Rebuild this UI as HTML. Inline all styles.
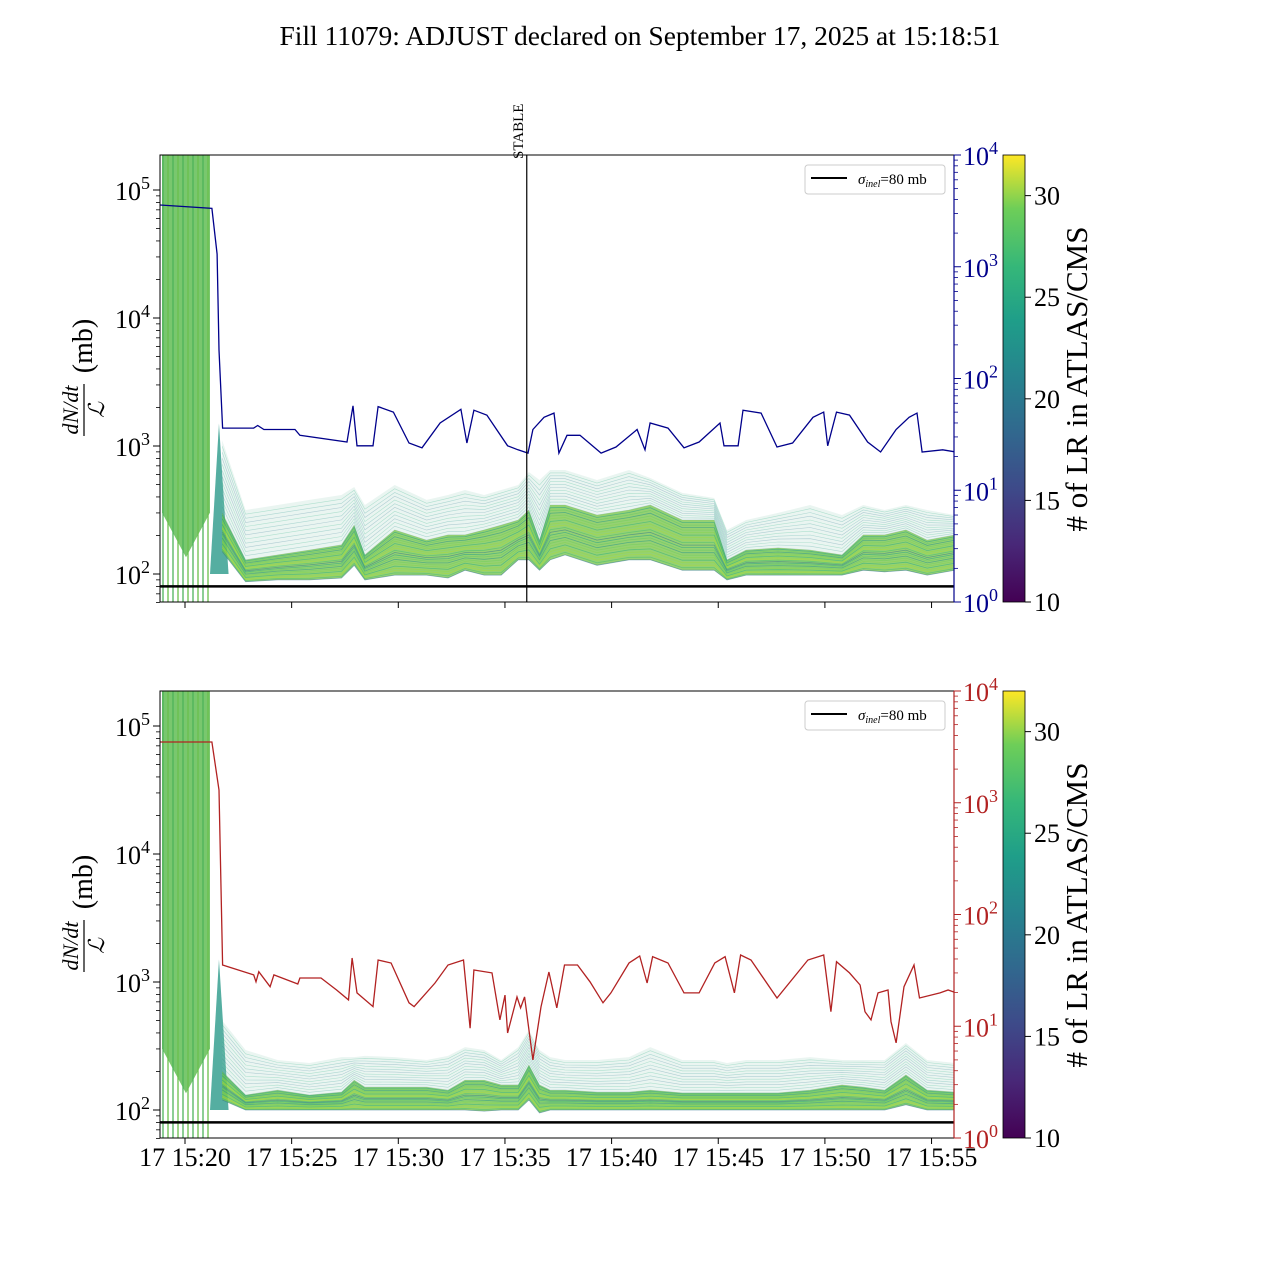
<!DOCTYPE html>
<html><head><meta charset="utf-8"><style>
html,body{margin:0;padding:0;background:#fff;}
svg text{font-family:"Liberation Serif",serif;}
</style></head><body>
<svg id="c" width="1280" height="1280" viewBox="0 0 1280 1280" xmlns="http://www.w3.org/2000/svg">
<defs>
<linearGradient id="vir" x1="0" y1="1" x2="0" y2="0">
<stop offset="0" stop-color="#440154"/><stop offset="0.13" stop-color="#482878"/><stop offset="0.25" stop-color="#3e4989"/><stop offset="0.38" stop-color="#31688e"/><stop offset="0.5" stop-color="#26828e"/><stop offset="0.63" stop-color="#1f9e89"/><stop offset="0.75" stop-color="#35b779"/><stop offset="0.88" stop-color="#6ece58"/><stop offset="1" stop-color="#fde725"/>
</linearGradient>
</defs>
<text x="640" y="45" font-size="27.5" text-anchor="middle">Fill 11079: ADJUST declared on September 17, 2025 at 15:18:51</text>
<g id="top"></g><g id="bot"></g>
</svg>
<script>
// ---- data ----
const xTicks=[20,25,30,35,40,45,50,55];
const xTickLabels=["17 15:20","17 15:25","17 15:30","17 15:35","17 15:40","17 15:45","17 15:50","17 15:55"];
const stableTime=35.2;
const sigmaInel=80;
const lumTopT=[17.98,20.42,20.66,20.75,20.92,22.38,22.57,22.86,24.32,24.55,26.76,27.04,27.23,27.98,28.22,28.94,29.67,30.28,31.13,32.11,32.39,32.72,33.33,34.30,34.79,35.26,35.49,36.01,36.48,36.71,37.09,37.70,38.69,39.39,40.38,40.75,40.99,41.83,42.58,43.29,44.27,44.46,45.12,45.35,46.20,46.95,47.68,48.64,49.14,49.33,49.74,50.35,51.20,51.81,52.54,53.15,53.52,53.76,54.73,55.34];
const lumTopV=[3570,3330,1300,180,36,36,38,35,35,31,27,57,25,25,56,50,26.5,24,40,53,26.5,52,47,25,23,21.5,35,45,49,21.5,31,31,21.5,24.4,35,23,40,36,24,27,40,25,25,52,49,24.4,26.5,45,50,25,50,47,27,22,35,45,49,22,23,22];
const lumBotT=[17.98,20.42,20.75,20.92,22.38,22.49,22.62,23.15,23.33,24.45,24.55,25.54,26.27,26.83,27.00,27.23,27.98,28.22,28.83,29.67,29.91,30.89,31.50,32.23,32.54,32.72,33.57,33.94,34.18,34.30,34.74,34.91,35.10,35.49,35.87,36.24,36.61,36.97,37.58,38.17,38.78,39.15,40.00,40.50,40.85,41.11,41.83,42.58,43.29,44.03,44.51,44.95,45.24,45.73,46.95,48.40,49.14,49.48,49.74,50.35,50.85,51.08,51.36,51.69,52.16,52.30,52.54,52.91,53.38,53.64,54.60,54.98,55.34];
const lumBotV=[3500,3500,1300,35.3,28.8,25,30.8,22.6,28.8,23.9,27,27,21.1,17.2,40.8,19.9,15,39.2,36.8,16.2,15,24.4,35.3,39.2,9.6,31.9,30,11.4,19,8.7,18.3,14.6,18.3,5,14.9,30.6,14.6,35.3,35.3,25,16.2,19.9,36.8,42.5,24.4,41.9,36.8,19.9,19.9,36.8,41.9,19.9,43.4,39.2,17.9,39.2,43.4,13.5,37.8,30,23.4,13.5,11.4,19.9,21.1,11,7.1,22.6,35.3,17.9,19.9,21.1,20];
const bandT=[20.9,22,23.5,25,26.5,27.1,27.6,29,30.5,31.5,32.3,33.2,34,34.8,35.3,35.8,36.3,37,38.5,40,41,42.5,44,44.6,45.5,47,48.5,50,51,52,53,54,55.3];
const topEnv=[1110,316,346,379,414,478,346,496,379,414,453,414,453,496,626,542,650,650,542,650,562,430,392,221,264,300,346,289,346,316,346,316,289];
const topCoreHi=[300,129,141,154,169,241,141,221,184,202,202,221,241,264,316,184,346,346,289,316,346,264,264,129,154,160,154,141,202,202,221,184,202];
const topCoreLo=[150,87,90,90,93,117,90,98,98,93,107,98,98,129,129,107,129,141,117,129,129,107,107,90,98,98,98,98,107,104,107,98,107];
const botEnv=[500,294,246,233,259,259,265,259,246,265,310,294,246,310,422,294,259,246,246,259,310,246,246,233,246,246,259,246,246,246,334,246,233];
const botCoreHi=[200,131,143,131,138,171,151,151,151,143,171,171,157,157,225,157,143,143,138,138,143,136,136,136,136,136,143,157,151,143,188,143,138];
const botCoreLo=[120,100,100,100,100,100,100,100,100,100,100,98,100,100,120,95,100,100,100,100,100,100,100,100,100,100,100,100,100,100,110,100,100];
const cbTicks=[10,15,20,25,30];
const legendLabel="=80 mb";

// ---- helpers ----
const NS="http://www.w3.org/2000/svg";
function mk(p,tag,attrs){const e=document.createElementNS(NS,tag);for(const k in attrs)e.setAttribute(k,attrs[k]);p.appendChild(e);return e;}
const X0=160,X1=954;
function xs(t){return 203+(t-20)*21.3;}
function xTickPos(t){return 185+(t-20)*21.33;}
const L=Math.log10;
const vir=["#2c728e","#21918c","#28ae80","#3fbc73","#5ec962","#84d44b","#addc30","#1f9e89","#6ece58","#9bd93c"];

function panel(gid,off,lumT,lumV,lumColor,env,hi,lo){
  const g=document.getElementById(gid);
  const top=155+off,bot=602+off;
  const yl=v=>190+off+(5-L(v))*128;
  const yr=v=>bot-L(v)*111.75;
  const clip="clip"+gid;
  const cp=mk(g,"clipPath",{id:clip});mk(cp,"rect",{x:X0,y:top,width:X1-X0,height:bot-top});
  const pg=mk(g,"g",{"clip-path":"url(#"+clip+")"});
  
  
  const er=mk(pg,"polygon",{points:`${X0+2},${top} ${X0+50},${top} ${X0+50},${top+(bot-top)*0.8} ${X0+26},${top+(bot-top)*0.9} ${X0+2},${top+(bot-top)*0.8}`,fill:"#62bd55",opacity:"0.85"});
  
  
  for(let i=0;i<10;i++){
    const ln=mk(pg,"line",{x1:163+i*5,x2:163+i*5,y1:top,y2:bot,stroke:i%2?"#6ac04c":"#4db35a","stroke-width":1.3});
    
    
  }
  const sp=mk(pg,"polygon",{points:`${X0+50},${yl(100)} ${xs(20.75)},${yl(1500)} ${xs(21.2)},${yl(100)}`,fill:"#2a9a8a",opacity:"0.8"});
  
  
  const lerp=(a,b,f)=>Math.pow(10,L(a)+(L(b)-L(a))*f);
  function line(arr,color,w,op,name){
    const d=bandT.map((t,i)=>(i?"L":"M")+xs(t).toFixed(1)+","+yl(arr[i]).toFixed(1)).join(" ");
    const p=mk(pg,"path",{d:d,fill:"none",stroke:color,"stroke-width":w,opacity:op});
    
    
  }
  const outer=bandT.map((t,i)=>xs(t)+","+yl(env[i])).concat(bandT.slice().reverse().map((t,j)=>{const i=bandT.length-1-j;return xs(t)+","+yl(lo[i]);})).join(" ");
  const ob=mk(pg,"polygon",{points:outer,fill:"#8cc8b0",opacity:"0.18"});
  
  
  for(let k=0;k<12;k++){const f=k/12;line(env.map((v,i)=>lerp(hi[i],v,f)),vir[k%3],0.6,0.3,'rate-line-outer');}
  const core=bandT.map((t,i)=>xs(t)+","+yl(hi[i])).concat(bandT.slice().reverse().map((t,j)=>{const i=bandT.length-1-j;return xs(t)+","+yl(lo[i]);})).join(" ");
  const cb=mk(pg,"polygon",{points:core,fill:"#78c448",opacity:"0.75"});
  
  
  for(let k=0;k<20;k++){const f=k/20;line(hi.map((v,i)=>lerp(lo[i],v,f)),vir[(k*3)%vir.length],0.8,0.55,'rate-line-core');}
  const sl=mk(pg,"line",{x1:X0,x2:X1,y1:yl(sigmaInel),y2:yl(sigmaInel),stroke:"#000","stroke-width":2.5});
  
  
  const d=lumT.map((t,i)=>(i?"L":"M")+xs(t).toFixed(1)+","+yr(lumV[i]).toFixed(1)).join(" ");
  const lp=mk(pg,"path",{d:d,fill:"none",stroke:lumColor,"stroke-width":1.3});
  
  
  const fr=mk(g,"rect",{x:X0,y:top,width:X1-X0,height:bot-top,fill:"none",stroke:"#000","stroke-width":1});
  
  
  for(let e=1;e<=5;e++){for(let m=1;m<10;m++){const v=m*Math.pow(10,e);const y=yl(v);if(y<top-0.5||y>bot+0.5)continue;mk(g,"line",{x1:X0,x2:X0-(m==1?7:4),y1:y,y2:y,stroke:"#000","stroke-width":m==1?1:0.8});}}
  for(let e=2;e<=5;e++){const t=mk(g,"text",{x:150,y:yl(Math.pow(10,e))+10,"font-size":26,"text-anchor":"end"});t.innerHTML="10<tspan dy='-11' font-size='18'>"+e+"</tspan>";
    
    }
  for(let e=0;e<=3;e++){for(let m=1;m<10;m++){const v=m*Math.pow(10,e);const y=yr(v);mk(g,"line",{x1:X1,x2:X1+(m==1?7:4),y1:y,y2:y,stroke:lumColor,"stroke-width":m==1?1:0.8});}}
  mk(g,"line",{x1:X1,x2:X1+7,y1:top,y2:top,stroke:lumColor});
  mk(g,"line",{x1:X1,x2:X1,y1:top,y2:bot,stroke:lumColor,"stroke-width":1.2});
  for(let e=0;e<=4;e++){const t=mk(g,"text",{x:963,y:yr(Math.pow(10,e))+10,"font-size":26,fill:lumColor});t.innerHTML="10<tspan dy='-11' font-size='18'>"+e+"</tspan>";
    
    }
  xTicks.forEach((t,i)=>{const x=xTickPos(t);mk(g,"line",{x1:x,x2:x,y1:bot,y2:bot+6,stroke:"#000"});
    if(off>0){const tx=mk(g,"text",{x:x,y:bot+28,"font-size":26,"text-anchor":"middle"});tx.textContent=xTickLabels[i];
      
      }});
  const yg=mk(g,"g",{transform:`translate(84,${378+off}) rotate(-90)`});
  
  
  const a=mk(yg,"text",{x:-32,y:-6,"font-size":22,"text-anchor":"middle","font-style":"italic"});a.textContent="dN/dt";
  mk(yg,"line",{x1:-58,x2:-6,y1:0,y2:0,stroke:"#000","stroke-width":1.2});
  const b=mk(yg,"text",{x:-32,y:20,"font-size":22,"text-anchor":"middle","font-style":"italic"});b.textContent="ℒ";
  const c=mk(yg,"text",{x:32,y:8,"font-size":28,"text-anchor":"middle"});c.textContent="(mb)";
  const lg=mk(g,"g",{});
  
  
  mk(lg,"rect",{x:805,y:165+off,width:140,height:29,rx:3,fill:"#fff",stroke:"#ccc"});
  mk(lg,"line",{x1:811,x2:847,y1:178+off,y2:178+off,stroke:"#000","stroke-width":2});
  const lt=mk(lg,"text",{x:858,y:184+off,"font-size":15});lt.innerHTML="<tspan font-style='italic'>σ</tspan><tspan font-size='10' dy='3' font-style='italic'>inel</tspan><tspan dy='-3'>"+legendLabel+"</tspan>";
  const cbr=mk(g,"rect",{x:1003,y:top,width:22,height:bot-top,fill:"url(#vir)",stroke:"#000","stroke-width":0.8});
  
  
  const cy=v=>bot-(v-10)/22*(bot-top);
  cbTicks.forEach(v=>{mk(g,"line",{x1:1025,x2:1031,y1:cy(v),y2:cy(v),stroke:"#000"});
    const t=mk(g,"text",{x:1034,y:cy(v)+9,"font-size":26});t.textContent=v;
    
    });
  const ct=mk(g,"text",{x:0,y:0,"font-size":31,"text-anchor":"middle",transform:`translate(1087,${379+off}) rotate(-90)`});ct.textContent="# of LR in ATLAS/CMS";
  
  
}
panel("top",0,lumTopT,lumTopV,"#00008b",topEnv,topCoreHi,topCoreLo);
panel("bot",536,lumBotT,lumBotV,"#b22222",botEnv,botCoreHi,botCoreLo);
const sv=document.getElementById("top");
const sx=xs(stableTime);
const stl=mk(sv,"line",{x1:sx,x2:sx,y1:155,y2:602,stroke:"#000","stroke-width":1.2});


const stt=mk(sv,"text",{x:0,y:0,"font-size":15,transform:`translate(${sx-4},159) rotate(-90)`});stt.textContent="STABLE";


</script>
</body></html>
